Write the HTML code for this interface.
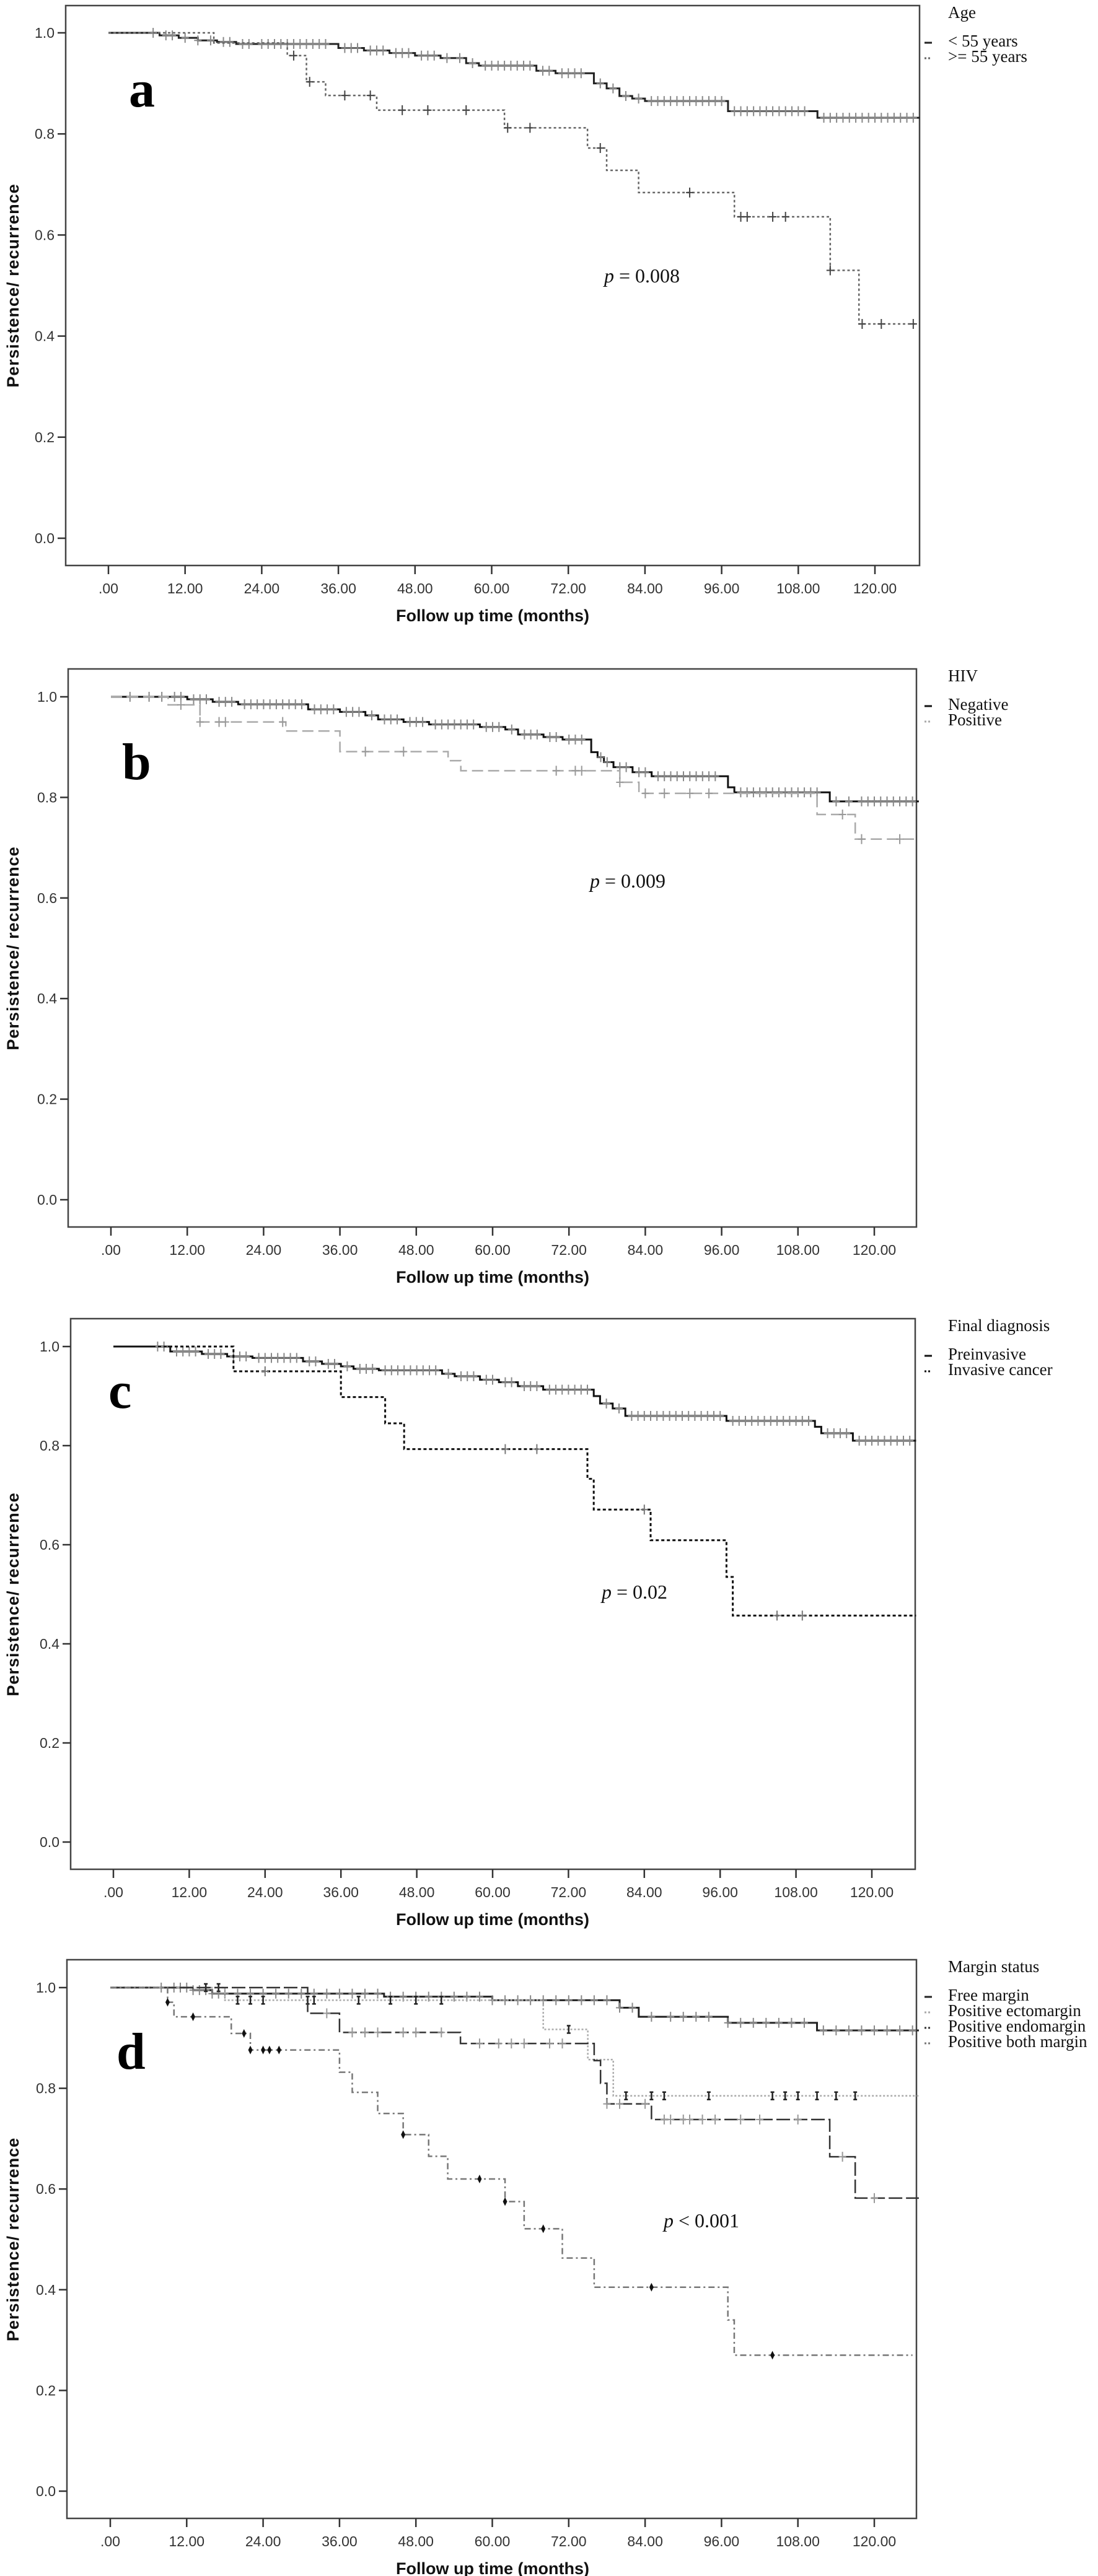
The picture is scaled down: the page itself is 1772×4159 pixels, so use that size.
<!DOCTYPE html>
<html><head><meta charset="utf-8"><style>
html,body{margin:0;padding:0;background:#fff}
svg{display:block}
</style></head><body>
<svg id="fig" xmlns="http://www.w3.org/2000/svg" width="1772" height="4159" viewBox="0 0 1772 4159"></svg>
<script>
// ---------- data ----------
const xTickLabels = [".00","12.00","24.00","36.00","48.00","60.00","72.00","84.00","96.00","108.00","120.00"];
const xTickValues = [0,12,24,36,48,60,72,84,96,108,120];
const yTickValues = [0,0.2,0.4,0.6,0.8,1.0];
const yTickLabels = ["0.0","0.2","0.4","0.6","0.8","1.0"];

// Panel a: Age
const aYoungTimes = [0,8,11,14,17,20,36,40,44,48,52,56,58,67,70,76,78,80,82,84,97,111];
const aYoungSurv  = [1,0.995,0.99,0.985,0.982,0.978,0.97,0.965,0.96,0.955,0.95,0.94,0.935,0.925,0.92,0.90,0.89,0.875,0.87,0.865,0.845,0.832];
const aYoungCensor = [7,9,10,12,14,16,18,19,21,22,24,25,26,27,28,29,30,31,32,33,34,37,38,39,41,42,43,45,46,47,49,50,51,53,55,57,59,60,61,62,63,64,65,66,68,69,71,72,73,74,77,79,81,83,85,86,87,88,89,90,91,92,93,94,95,96,98,99,100,101,102,103,104,105,106,107,108,109,112,113,114,115,116,117,118,119,120,121,122,123,124,125,126];
const aOldTimes = [0,16.5,28,31,34,42,62,75,78,83,98,113,117.5];
const aOldSurv  = [1,0.98,0.955,0.903,0.876,0.847,0.812,0.772,0.728,0.684,0.636,0.53,0.424];
const aOldCensor = [29,31.5,37,41,46,50,56,62.5,66,77,91,99,100,104,106,113,118,121,126];

// Panel b: HIV
const bNegTimes = [0,12,16,20,31,36,40,42,46,50,58,62,64,68,71,75.5,76.5,77.5,79,82,85,97,98,113];
const bNegSurv  = [1,0.995,0.99,0.985,0.975,0.97,0.963,0.955,0.95,0.945,0.94,0.935,0.925,0.92,0.915,0.89,0.88,0.87,0.86,0.85,0.842,0.82,0.81,0.792];
const bNegCensor = [3,6,8,10,11,13,14,15,17,18,19,21,22,23,24,25,26,27,28,29,30,32,33,34,35,37,38,39,41,43,44,45,47,48,49,51,52,53,54,55,56,57,59,60,61,63,65,66,67,69,70,72,73,74,77,78,80,81,83,84,86,87,88,89,90,91,92,93,94,95,99,100,101,102,103,104,105,106,107,108,109,110,111,114,116,118,119,120,121,122,123,124,125,126];
const bPosTimes = [0,9,14,27.5,36,53,55,80,83,111,117];
const bPosSurv  = [1,0.984,0.95,0.932,0.891,0.873,0.853,0.83,0.808,0.766,0.717];
const bPosCensor = [11,14,17,18,27,40,46,70,73,74,80,84,87,91,94,115,118,124];

// Panel c: Final diagnosis
const cPreTimes = [0,9,14,18,22,30,33,36,38,42,52,54,58,61,64,68,76,77,79,81,97,111,112,117];
const cPreSurv  = [1,0.99,0.985,0.98,0.977,0.97,0.965,0.96,0.955,0.952,0.945,0.94,0.933,0.928,0.92,0.913,0.9,0.885,0.875,0.86,0.85,0.838,0.825,0.81];
const cPreCensor = [7,8,10,11,12,13,15,16,17,19,20,21,23,24,25,26,27,28,29,31,32,34,35,37,39,40,41,43,44,45,46,47,48,49,50,51,53,55,56,57,59,60,62,63,65,66,67,69,70,71,72,73,74,75,78,80,82,83,84,85,86,87,88,89,90,91,92,93,94,95,96,98,99,100,101,102,103,104,105,106,107,108,109,110,113,114,115,116,118,119,120,121,122,123,124,125,126];
const cInvTimes = [0,19,36,43,46,75,76,85,97,98];
const cInvSurv  = [1,0.95,0.898,0.845,0.793,0.733,0.671,0.609,0.535,0.457];
const cInvCensor = [24,62,67,84,105,109];

// Panel d: Margin status
const dFreeTimes = [0,13,16,43,60,80,83,97,111];
const dFreeSurv  = [1,0.995,0.988,0.982,0.975,0.96,0.942,0.93,0.915];
const dFreeCensor = [8,10,11,12,13,14,15,16,17,18,20,22,24,26,28,30,32,34,36,38,40,42,44,46,48,50,52,54,56,58,60,62,64,66,68,70,72,74,76,78,80,82,85,88,90,92,94,97,99,101,103,105,107,109,112,114,116,118,120,122,124,126];
const dEctoTimes = [0,18,68,75,79];
const dEctoSurv  = [1,0.975,0.917,0.857,0.785];
const dEctoCensor = [15,17,20,22,24,31,32,39,44,48,52,72,81,85,87,94,104,106,108,111,114,117];
const dEndoTimes = [0,31,36,55,76,77,78,85,113,117];
const dEndoSurv  = [1,0.949,0.911,0.889,0.855,0.81,0.769,0.738,0.664,0.582];
const dEndoCensor = [34,38,40,42,46,48,52,58,61,63,65,69,71,78,80,84,87,88,90,91,93,95,99,102,108,115,120];
const dBothTimes = [0,9,10,19,22,36,38,42,46,50,53,62,65,71,76,97,98];
const dBothSurv  = [1,0.971,0.942,0.909,0.876,0.832,0.792,0.75,0.708,0.665,0.62,0.575,0.521,0.463,0.405,0.34,0.27];
const dBothCensor = [9,13,21,22,24,25,26.5,46,58,62,68,85,104];

// ---------- layout ----------
const NS = "http://www.w3.org/2000/svg";
const svg = document.getElementById('fig');
function mk(tag, attrs, parent){
  const e = document.createElementNS(NS, tag);
  for (const k in attrs) e.setAttribute(k, attrs[k]);
  (parent||svg).appendChild(e);
  return e;
}

const panels = [
  {id:'a', letter:'a', L:106, T:9,    R:1484, y1:53,   y0:869,  B:913,  x0:175, x120:1412, lx:208, ly:172,
   legendTitle:'Age', pText:'0.008', pOp:' = ', px:975, py:456,
   series:[
     {name:'under-55', label:'< 55 years', times:aYoungTimes, surv:aYoungSurv, censor:aYoungCensor, end:127, color:'#222', w:3, dash:'', cc:'#888', mark:'plus'},
     {name:'55-plus', label:'>= 55 years', times:aOldTimes, surv:aOldSurv, censor:aOldCensor, end:126.5, color:'#666', w:2.5, dash:'4 4', cc:'#444', mark:'plus'}
   ]},
  {id:'b', letter:'b', L:110, T:1080, R:1479, y1:1125, y0:1937, B:1981, x0:179, x120:1411, lx:197, ly:1258,
   legendTitle:'HIV', pText:'0.009', pOp:' = ', px:952, py:1433,
   series:[
     {name:'hiv-negative', label:'Negative', times:bNegTimes, surv:bNegSurv, censor:bNegCensor, end:127, color:'#111', w:3, dash:'', cc:'#888', mark:'plus'},
     {name:'hiv-positive', label:'Positive', times:bPosTimes, surv:bPosSurv, censor:bPosCensor, end:127, color:'#aaa', w:2.5, dash:'18 8', cc:'#999', mark:'plus'}
   ]},
  {id:'c', letter:'c', L:114, T:2129, R:1477, y1:2174, y0:2974, B:3018, x0:183, x120:1407, lx:175, ly:2273,
   legendTitle:'Final diagnosis', pText:'0.02', pOp:' = ', px:971, py:2581,
   series:[
     {name:'preinvasive', label:'Preinvasive', times:cPreTimes, surv:cPreSurv, censor:cPreCensor, end:127, color:'#111', w:3, dash:'', cc:'#888', mark:'plus'},
     {name:'invasive-cancer', label:'Invasive cancer', times:cInvTimes, surv:cInvSurv, censor:cInvCensor, end:127, color:'#111', w:3, dash:'5 4', cc:'#777', mark:'plus'}
   ]},
  {id:'d', letter:'d', L:108, T:3164, R:1479, y1:3209, y0:4022, B:4066, x0:178, x120:1411, lx:188, ly:3340,
   legendTitle:'Margin status', pText:'0.001', pOp:' < ', px:1071, py:3596,
   series:[
     {name:'free-margin', label:'Free margin', times:dFreeTimes, surv:dFreeSurv, censor:dFreeCensor, end:127, color:'#222', w:3, dash:'', cc:'#888', mark:'plus'},
     {name:'positive-ectomargin', label:'Positive ectomargin', times:dEctoTimes, surv:dEctoSurv, censor:dEctoCensor, end:127, color:'#aaa', w:2.5, dash:'3 3', cc:'#222', mark:'bar'},
     {name:'positive-endomargin', label:'Positive endomargin', times:dEndoTimes, surv:dEndoSurv, censor:dEndoCensor, end:127, color:'#333', w:2.5, dash:'22 6', cc:'#999', mark:'plus'},
     {name:'positive-both-margin', label:'Positive both margin', times:dBothTimes, surv:dBothSurv, censor:dBothCensor, end:126, color:'#777', w:2.5, dash:'10 5 3 5', cc:'#111', mark:'diamond'}
   ]}
];

function stepAt(times, surv, t){
  let v = surv[0];
  for (let i=0;i<times.length;i++){ if (times[i] <= t) v = surv[i]; }
  return v;
}

panels.forEach(p => {
  const g = mk('g', {});
  
  
  const xs = t => p.x0 + (p.x120 - p.x0) * t / 120;
  const ys = v => p.y0 + (p.y1 - p.y0) * v;

  const box = mk('rect', {x:p.L, y:p.T, width:p.R-p.L, height:p.B-p.T, fill:'none', stroke:'#444', 'stroke-width':2.5}, g);
  
  

  // y axis
  const yax = mk('g', {}, g);
  
  
  yTickValues.forEach((v,i) => {
    mk('line', {x1:p.L-13, x2:p.L, y1:ys(v), y2:ys(v), stroke:'#333', 'stroke-width':2.5}, yax);
    const t = mk('text', {x:p.L-18, y:ys(v)+8, 'text-anchor':'end', 'font-family':'Liberation Sans, sans-serif', 'font-size':23, fill:'#333'}, yax);
    t.textContent = yTickLabels[i];
    
    
  });
  const yt = mk('text', {x:0, y:0, 'text-anchor':'middle', 'font-family':'Liberation Sans, sans-serif', 'font-size':27, 'font-weight':'bold', 'letter-spacing':'1', fill:'#111',
    transform:'translate(30,' + ((p.y0+p.y1)/2) + ') rotate(-90)'}, g);
  yt.textContent = 'Persistence/ recurrence';
  
  

  // x axis
  const xax = mk('g', {}, g);
  
  
  xTickValues.forEach((v,i) => {
    mk('line', {x1:xs(v), x2:xs(v), y1:p.B, y2:p.B+14, stroke:'#333', 'stroke-width':2.5}, xax);
    const t = mk('text', {x:xs(v), y:p.B+45, 'text-anchor':'middle', 'font-family':'Liberation Sans, sans-serif', 'font-size':23, fill:'#333'}, xax);
    t.textContent = xTickLabels[i];
    
    
  });
  const xt = mk('text', {x:795, y:p.B+90, 'text-anchor':'middle', 'font-family':'Liberation Sans, sans-serif', 'font-size':27, 'font-weight':'bold', fill:'#111'}, g);
  xt.textContent = 'Follow up time (months)';
  
  

  // panel letter
  const lt = mk('text', {x:p.lx, y:p.ly, 'font-family':'Liberation Serif, serif', 'font-size':84, 'font-weight':'bold', fill:'#000'}, g);
  lt.textContent = p.letter;
  
  

  // p-value
  const pv = mk('text', {x:p.px, y:p.py, 'font-family':'Liberation Serif, serif', 'font-size':32, fill:'#111'}, g);
  
  
  const pi = mk('tspan', {'font-style':'italic'}, pv); pi.textContent = 'p';
  const pr = mk('tspan', {}, pv); pr.textContent = p.pOp + p.pText;

  // series
  p.series.forEach(s => {
    let d = 'M' + xs(s.times[0]) + ' ' + ys(s.surv[0]);
    for (let i=1;i<s.times.length;i++){
      d += ' H' + xs(s.times[i]) + ' V' + ys(s.surv[i]);
    }
    d += ' H' + xs(s.end);
    const path = mk('path', {d:d, fill:'none', stroke:s.color, 'stroke-width':s.w, 'stroke-dasharray':s.dash}, g);
    
    
    const cg = mk('g', {}, g);
    
    
    s.censor.forEach(t => {
      const cx = xs(t), cy = ys(stepAt(s.times, s.surv, t));
      if (s.mark === 'plus'){
        mk('path', {d:'M'+(cx-6)+' '+cy+' H'+(cx+6)+' M'+cx+' '+(cy-8)+' V'+(cy+8), stroke:s.cc, 'stroke-width':2, fill:'none'}, cg);
      } else if (s.mark === 'bar'){
        mk('path', {d:'M'+(cx-3)+' '+(cy-6)+' H'+(cx+3)+' M'+cx+' '+(cy-6)+' V'+(cy+6)+' M'+(cx-3)+' '+(cy+6)+' H'+(cx+3), stroke:s.cc, 'stroke-width':2.5, fill:'none'}, cg);
      } else {
        mk('path', {d:'M'+cx+' '+(cy-7)+' L'+(cx+3.5)+' '+cy+' L'+cx+' '+(cy+7)+' L'+(cx-3.5)+' '+cy+' Z', fill:s.cc}, cg);
      }
    });
  });

  // legend
  const lg = mk('g', {}, g);
  
  
  const ltl = mk('text', {x:1530, y:p.T+20, 'font-family':'Liberation Serif, serif', 'font-size':27, fill:'#111'}, lg);
  ltl.textContent = p.legendTitle;
  
  
  p.series.forEach((s,i) => {
    const yy = p.T + 66 + i*25;
    mk('line', {x1:1492, x2:1504, y1:yy-6, y2:yy-6, stroke:s.color, 'stroke-width':3, 'stroke-dasharray': s.dash ? '3 3' : ''}, lg);
    const et = mk('text', {x:1530, y:yy, 'font-family':'Liberation Serif, serif', 'font-size':27, fill:'#111'}, lg);
    et.textContent = s.label;
    
    
  });
});
</script>
</body></html>
